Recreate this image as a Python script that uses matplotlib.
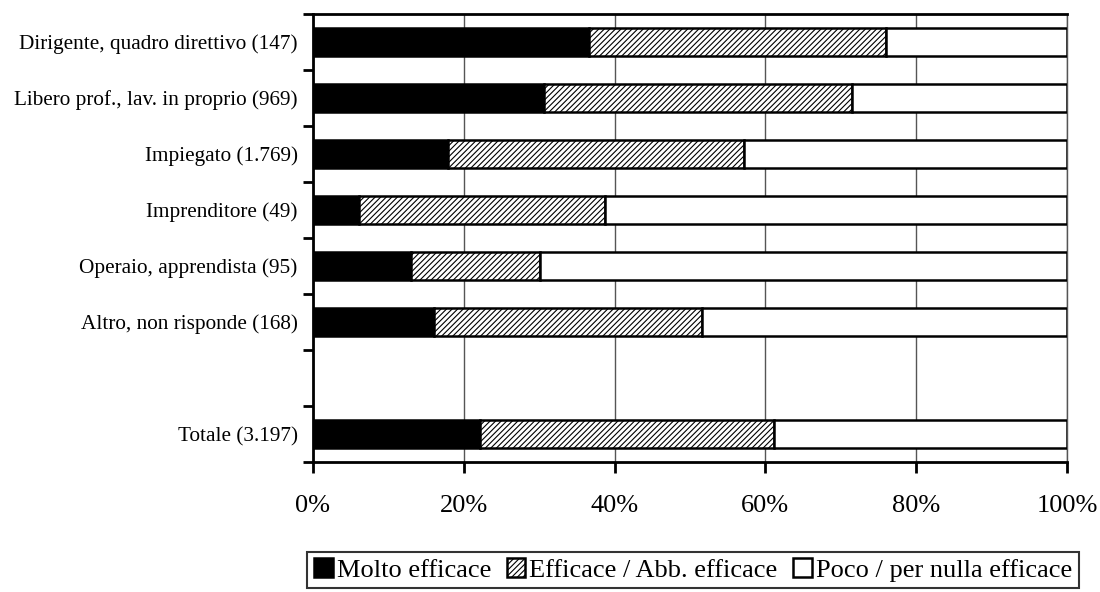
import numpy as np
import matplotlib
matplotlib.use('Agg')
import matplotlib.pyplot as plt

plt.rcParams['font.family'] = ['Liberation Serif', 'DejaVu Serif']
plt.rcParams['hatch.linewidth'] = 0.8

categories = ['Dirigente, quadro direttivo (147)',
              'Libero prof., lav. in proprio (969)',
              'Impiegato (1.769)',
              'Imprenditore (49)',
              'Operaio, apprendista (95)',
              'Altro, non risponde (168)',
              '',
              'Totale (3.197)']
molto = [36.6, 30.6, 17.9, 6.1, 13.0, 16.0, np.nan, 22.1]
efficace = [39.4, 40.9, 39.3, 32.6, 17.1, 35.6, np.nan, 39.0]
poco = [24.0, 28.5, 42.8, 61.3, 69.9, 48.4, np.nan, 38.9]
series_names = ['Molto efficace', 'Efficace / Abb. efficace', 'Poco / per nulla efficace']
x_ticks = [0, 20, 40, 60, 80, 100]

fig = plt.figure(figsize=(11, 5.92), dpi=100)
ax = fig.add_axes([0.2845, 0.2196, 0.6855, 0.7568])

y = np.arange(len(categories))
h = 0.5
m = np.array(molto)
e = np.array(efficace)
p = np.array(poco)

ax.barh(y, m, height=h, color='black', edgecolor='black', linewidth=1.8,
        label=series_names[0], zorder=3)
ax.barh(y, e, left=m, height=h, color='white', edgecolor='black', linewidth=1.8,
        hatch='//////', label=series_names[1], zorder=3)
ax.barh(y, p, left=m + e, height=h, color='white', edgecolor='black', linewidth=1.8,
        label=series_names[2], zorder=3)

ax.set_xlim(0, 100)
ax.set_ylim(len(categories) - 0.5, -0.5)

ax.set_xticks(x_ticks)
ax.set_xticklabels([f'{v}%' for v in x_ticks], fontsize=19)
ax.tick_params(axis='x', length=8, width=2, direction='out', pad=16)

ax.set_yticks(y)
ax.set_yticklabels(categories, fontsize=15.3)
ax.set_yticks(np.arange(-0.5, len(categories)), minor=True)
ax.tick_params(axis='y', which='major', length=0, pad=11)
ax.tick_params(axis='y', which='minor', length=7, width=2, direction='out')

ax.xaxis.grid(True, color='#555555', linewidth=1, zorder=0)
ax.set_axisbelow(True)

for side in ['left', 'bottom', 'top']:
    ax.spines[side].set_linewidth(2)
    ax.spines[side].set_color('black')
ax.spines['right'].set_color('#555555')
ax.spines['right'].set_linewidth(1)

handles, labels = ax.get_legend_handles_labels()
leg = fig.legend(handles, labels, loc='center', bbox_to_anchor=(0.63, 0.037),
                 ncol=3, fontsize=19, frameon=True, fancybox=False,
                 edgecolor='black', handlelength=0.7, handleheight=0.7,
                 handletextpad=0.15, columnspacing=0.6, borderpad=0.25,
                 borderaxespad=0)
leg.get_frame().set_linewidth(1.5)

fig.savefig('out.png', dpi=100)
